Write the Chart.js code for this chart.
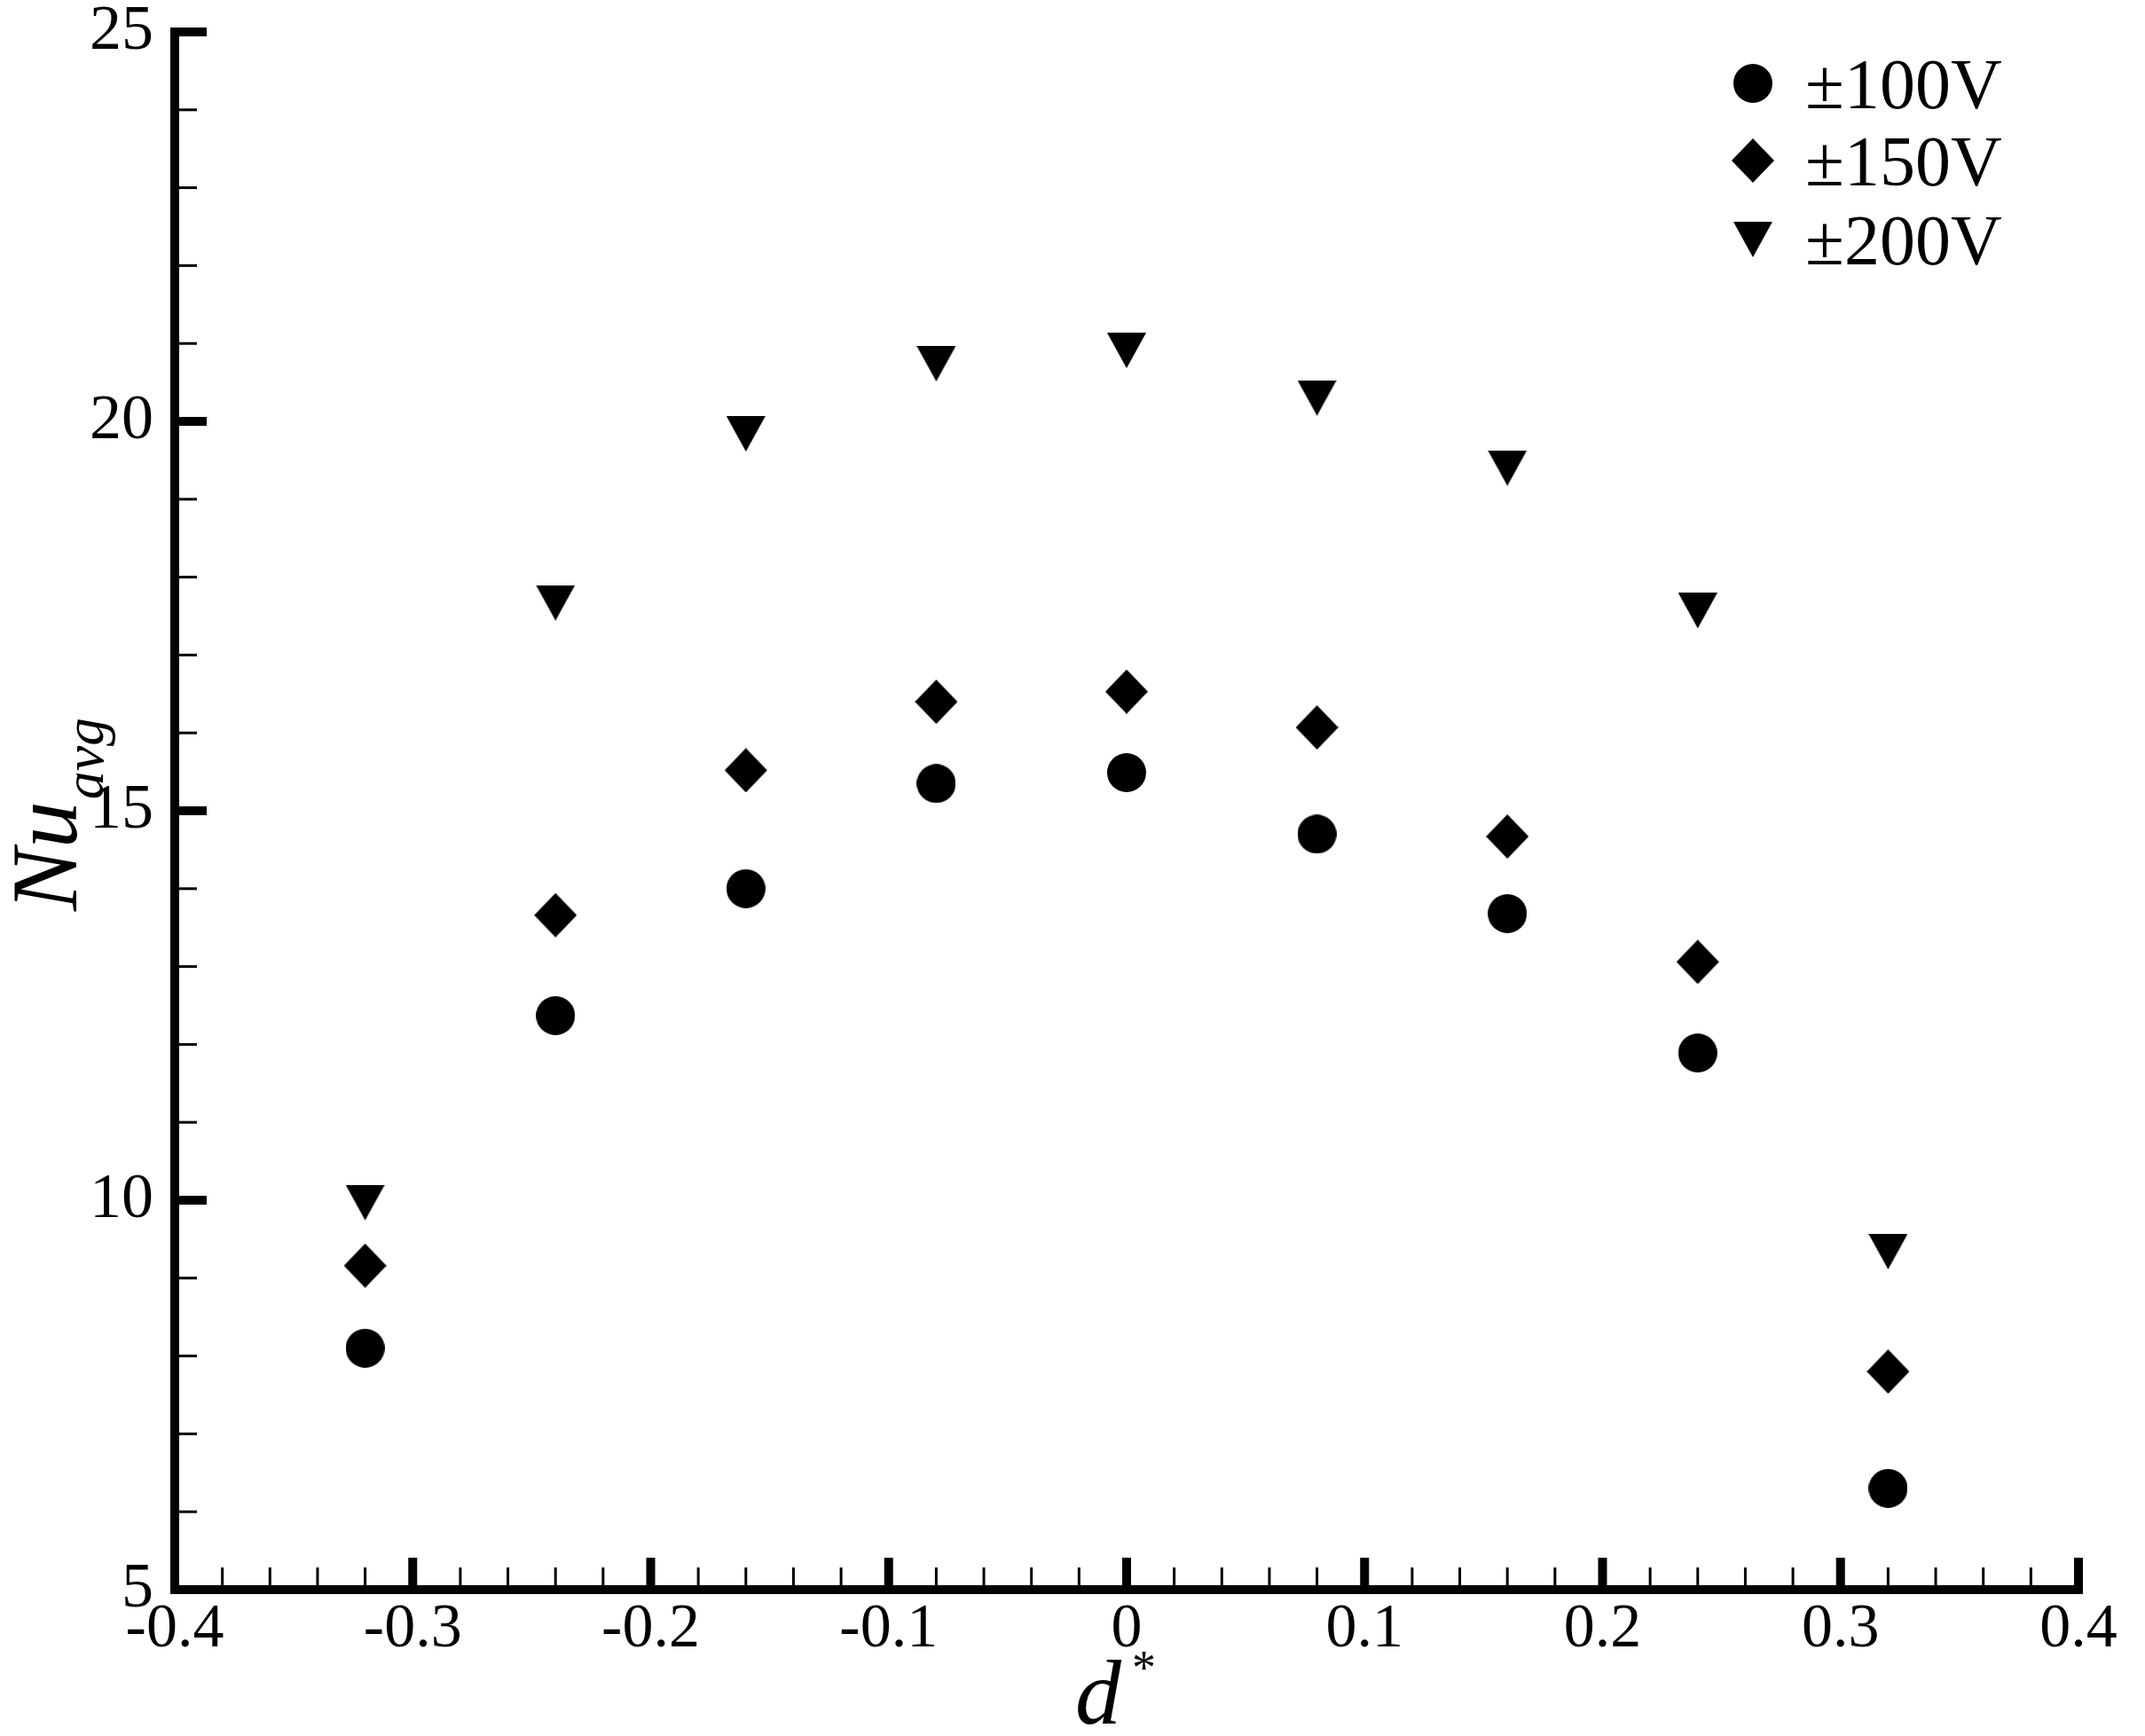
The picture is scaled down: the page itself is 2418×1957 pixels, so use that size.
<!DOCTYPE html>
<html>
<head>
<meta charset="utf-8">
<script src="https://cdn.jsdelivr.net/npm/chart.js@4.4.1/dist/chart.umd.min.js"></script>
<style>
  html, body { margin: 0; padding: 0; background: #fff; }
  canvas { display: block; }
</style>
</head>
<body>
<canvas id="nuChart" width="2418" height="1957" style="width:2418px;height:1957px"></canvas>
<script>
// d* positions and Nu_avg
const dStar = [-0.32, -0.24, -0.16, -0.08, 0, 0.08, 0.16, 0.24, 0.32];
const nu100 = [8.10, 12.37, 14.00, 15.35, 15.49, 14.70, 13.68, 11.89, 6.30];
const nu150 = [9.16, 13.66, 15.52, 16.40, 16.53, 16.07, 14.67, 13.06, 7.80];
const nu200 = [9.97, 17.67, 19.84, 20.74, 20.91, 20.30, 19.40, 17.57, 9.34];
const seriesLabels = ["\u00b1100V", "\u00b1150V", "\u00b1200V"];

const xTickValues = [-0.4, -0.3, -0.2, -0.1, 0, 0.1, 0.2, 0.3, 0.4];
const yTickValues = [5, 10, 15, 20, 25];

const SERIF = '"Liberation Serif", "Times New Roman", serif';

// filled black symbols like the Tecplot ones
function makeMarker(shape, w, h) {
  const c = document.createElement("canvas");
  c.width = w;
  c.height = h;
  const g = c.getContext("2d");
  g.fillStyle = "#000";
  g.beginPath();
  if (shape === "circle") {
    g.ellipse(w / 2, h / 2, w / 2, h / 2, 0, 0, 2 * Math.PI);
  } else if (shape === "diamond") {
    g.moveTo(w / 2, 0);
    g.lineTo(w, h / 2);
    g.lineTo(w / 2, h);
    g.lineTo(0, h / 2);
    g.closePath();
  } else {
    g.moveTo(0, 0);
    g.lineTo(w, 0);
    g.lineTo(w / 2, h);
    g.closePath();
  }
  g.fill();
  return c;
}

const markers = [
  makeMarker("circle", 44, 44),
  makeMarker("diamond", 48, 50),
  makeMarker("triangle", 44, 40),
];

function toPoints(values) {
  return dStar.map((x, i) => ({ x: x, y: values[i] }));
}

// axes with inward major/minor ticks
const axesPlugin = {
  id: "tecplotAxes",
  afterDraw(chart) {
    const { ctx, chartArea: a } = chart;
    const xs = chart.scales.x;
    const ys = chart.scales.y;
    ctx.save();
    ctx.fillStyle = "#000";
    ctx.fillRect(a.left - 5, a.top - 5, 10, a.bottom - a.top + 10);
    ctx.fillRect(a.left - 5, a.bottom - 5, a.right - a.left + 10, 10);

    for (let v = 6; v < 25; v++) {
      if (v % 5 === 0) continue;
      const py = ys.getPixelForValue(v);
      ctx.fillRect(a.left, py - 1.5, 25, 3);
    }
    yTickValues.forEach(v => {
      const py = ys.getPixelForValue(v);
      ctx.fillRect(a.left, py - 5, 36, 10);
    });

    for (let i = -20; i <= 20; i++) {
      if (i % 5 === 0) continue;
      const px = xs.getPixelForValue(i * 0.02);
      ctx.fillRect(px - 1.5, a.bottom - 25, 3, 25);
    }
    xTickValues.forEach(v => {
      const px = xs.getPixelForValue(v);
      ctx.fillRect(px - 5, a.bottom - 36, 10, 36);
    });
    ctx.restore();
  },
};

// axis titles with sub/superscripts, and the legend box
const labelsPlugin = {
  id: "tecplotLabels",
  afterDraw(chart) {
    const { ctx, chartArea: a } = chart;
    ctx.save();
    ctx.fillStyle = "#000";
    ctx.textBaseline = "alphabetic";
    ctx.textAlign = "left";

    // Nu_avg, rotated
    const big = "italic 106px " + SERIF;
    const small = "italic 64px " + SERIF;
    ctx.font = big;
    const wNu = ctx.measureText("Nu").width;
    ctx.font = small;
    const wAvg = ctx.measureText("avg").width;
    const total = wNu + 2 + wAvg;
    const midY = (a.top + a.bottom) / 2;
    ctx.save();
    ctx.translate(86, midY + total / 2 + 4);
    ctx.rotate(-Math.PI / 2);
    ctx.font = big;
    ctx.fillText("Nu", 0, 0);
    ctx.font = small;
    ctx.fillText("avg", wNu + 2, 30);
    ctx.restore();

    // d*
    const x0 = chart.scales.x.getPixelForValue(0);
    ctx.font = "italic 104px " + SERIF;
    const wD = ctx.measureText("d").width;
    ctx.fillText("d", x0 - 58, 1943);
    ctx.font = "54px " + SERIF;
    ctx.fillText("*", x0 - 58 + wD + 12, 1898);

    // legend
    const rows = [94, 181, 270];
    ctx.font = "80px " + SERIF;
    seriesLabels.forEach((label, i) => {
      const m = markers[i];
      ctx.drawImage(m, 1976 - m.width / 2, rows[i] - m.height / 2);
      ctx.fillText(label, 2035, rows[i] + 28);
    });
    ctx.restore();
  },
};

const ctx = document.getElementById("nuChart").getContext("2d");

const nuChart = new Chart(ctx, {
  type: "scatter",
  data: {
    datasets: [
      { label: seriesLabels[0], data: toPoints(nu100), pointStyle: markers[0] },
      { label: seriesLabels[1], data: toPoints(nu150), pointStyle: markers[1] },
      { label: seriesLabels[2], data: toPoints(nu200), pointStyle: markers[2] },
    ],
  },
  options: {
    responsive: false,
    devicePixelRatio: 1,
    animation: false,
    layout: { padding: { top: 36, right: 75, left: 0, bottom: 0 } },
    plugins: {
      legend: { display: false },
      tooltip: { enabled: false },
    },
    scales: {
      x: {
        type: "linear",
        min: -0.4,
        max: 0.4,
        afterBuildTicks: s => { s.ticks = xTickValues.map(v => ({ value: v })); },
        afterFit: s => { s.height = 165; s.paddingLeft = 0; s.paddingRight = 0; },
        grid: { display: false },
        border: { display: false },
        ticks: {
          color: "#000",
          padding: 3,
          maxRotation: 0,
          font: { family: SERIF, size: 70, lineHeight: 1 },
          callback: v => (Math.abs(v) < 1e-9 ? "0" : v.toFixed(1)),
        },
      },
      y: {
        type: "linear",
        min: 5,
        max: 25,
        afterBuildTicks: s => { s.ticks = yTickValues.map(v => ({ value: v })); },
        afterFit: s => { s.width = 197; s.paddingTop = 0; s.paddingBottom = 0; },
        grid: { display: false },
        border: { display: false },
        ticks: {
          color: "#000",
          padding: 16,
          font: { family: SERIF, size: 72, lineHeight: 1 },
          callback: v => String(v),
        },
      },
    },
  },
  plugins: [axesPlugin, labelsPlugin],
});
</script>
</body>
</html>
